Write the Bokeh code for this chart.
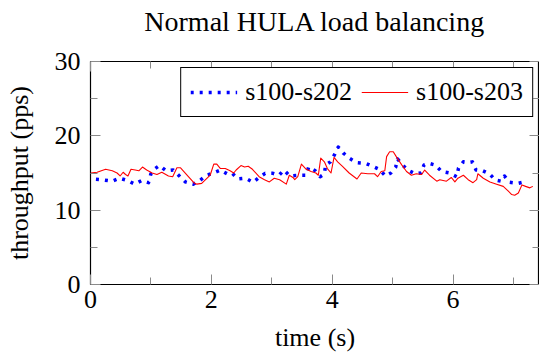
from bokeh.plotting import figure
from bokeh.models import (FixedTicker, LinearAxis, Range1d, Legend, LegendItem,
                          CustomJSTickFormatter)
from bokeh.embed import file_html
from bokeh.resources import INLINE

# ---- data -------------------------------------------------------------
title_text = "Normal HULA load balancing"
x_label = "time (s)"
y_label = "throughput (pps)"
series_names = ["s100-s202", "s100-s203"]

x_major_ticks = [0, 2, 4, 6]
x_minor_ticks = [1, 3, 5, 7]
y_major_ticks = [0, 10, 20, 30]
y_minor_ticks = [5, 15, 25]

t_202 = [0.09, 0.22, 0.36, 0.48, 0.61, 0.73, 0.85, 0.96, 1.00, 1.07, 1.14, 1.25,
         1.37, 1.47, 1.57, 1.70, 1.81, 1.92, 2.02, 2.15, 2.26, 2.34, 2.44, 2.57,
         2.69, 2.79, 2.89, 3.02, 3.12, 3.20, 3.30, 3.43, 3.57, 3.61, 3.72, 3.80,
         3.87, 3.89, 3.97, 4.04, 4.10, 4.18, 4.29, 4.40, 4.55, 4.67, 4.78, 4.88,
         4.97, 5.05, 5.08, 5.16, 5.26, 5.37, 5.47, 5.52, 5.60, 5.71, 5.81, 5.94,
         6.06, 6.09, 6.17, 6.25, 6.32, 6.38, 6.48, 6.60, 6.70, 6.79, 6.85, 6.93,
         7.07, 7.18]
v_202 = [14.15, 14.06, 13.9, 14.3, 14.0, 13.5, 14.0, 13.7, 14.9, 15.6, 16.0, 15.3,
         15.4, 14.6, 13.8, 13.5, 14.0, 14.7, 14.95, 15.4, 14.9, 15.0, 14.2, 14.3,
         13.75, 14.4, 14.95, 14.95, 14.7, 15.4, 14.6, 14.7, 14.7, 15.8, 15.3, 14.5,
         14.86, 16.06, 16.5, 17.5, 18.5, 17.7, 16.96, 16.4, 16.3, 15.9, 15.5, 14.6,
         15.0, 15.8, 16.9, 16.1, 15.35, 14.9, 15.0, 16.1, 16.3, 16.06, 15.2, 15.0,
         14.5, 15.66, 16.5, 16.4, 16.5, 15.4, 15.35, 14.9, 14.06, 13.9, 14.6, 13.75,
         13.6, 13.8]

t_203 = [0.00, 0.11, 0.25, 0.36, 0.44, 0.49, 0.54, 0.58, 0.62, 0.67, 0.74, 0.80,
         0.86, 0.93, 1.02, 1.10, 1.18, 1.29, 1.36, 1.43, 1.49, 1.62, 1.71, 1.76,
         1.84, 1.93, 1.98, 2.04, 2.09, 2.15, 2.23, 2.31, 2.37, 2.41, 2.49, 2.55,
         2.61, 2.68, 2.79, 2.88, 2.96, 3.04, 3.13, 3.24, 3.29, 3.35, 3.38, 3.43,
         3.49, 3.57, 3.65, 3.73, 3.77, 3.81, 3.87, 3.92, 3.98, 4.03, 4.09, 4.17,
         4.28, 4.41, 4.48, 4.59, 4.70, 4.75, 4.81, 4.87, 4.90, 4.95, 5.01, 5.06,
         5.15, 5.23, 5.31, 5.39, 5.48, 5.53, 5.61, 5.73, 5.78, 5.89, 5.97, 6.03,
         6.08, 6.17, 6.25, 6.33, 6.39, 6.41, 6.50, 6.61, 6.72, 6.83, 6.91, 6.97,
         7.02, 7.08, 7.14, 7.20, 7.27, 7.32]
v_203 = [15.0, 15.1, 15.5, 15.3, 15.0, 14.6, 15.1, 14.8, 14.6, 15.5, 15.4, 15.3,
         15.8, 15.4, 15.0, 14.8, 15.1, 14.6, 14.5, 15.7, 15.7, 14.5, 13.7, 13.5,
         13.6, 14.3, 14.7, 16.2, 16.2, 15.6, 15.6, 15.3, 15.0, 15.4, 16.0, 15.8,
         15.9, 15.5, 14.5, 14.1, 13.8, 14.3, 14.1, 13.5, 14.7, 14.4, 14.1, 14.5,
         16.2, 15.5, 15.2, 15.0, 14.7, 17.0, 16.5, 15.6, 15.0, 17.1, 16.5, 15.9,
         15.0, 14.2, 15.0, 14.9, 14.9, 14.5, 15.2, 15.3, 17.2, 17.85, 17.85, 17.2,
         16.1, 15.2, 14.7, 14.9, 14.8, 15.4, 14.7, 13.9, 14.1, 13.9, 14.4, 13.8,
         14.3, 14.7, 14.1, 13.7, 14.1, 14.9, 14.3, 13.8, 13.5, 13.2, 12.6, 12.1,
         12.0, 12.3, 13.4, 13.2, 13.0, 13.2]

x_start, x_end = 0, 7.43
y_start, y_end = 0, 30

# ---- styling ----------------------------------------------------------
FONT = "Liberation Serif"
FS = "26px"
TICK_COLOR = "#8a8a8a"

p = figure(width=539, height=354, output_backend="svg", toolbar_location=None,
           x_range=Range1d(x_start, x_end), y_range=Range1d(y_start, y_end),
           min_border_left=90, min_border_top=61, min_border_bottom=70,
           min_border_right=0)

p.title.text = title_text
p.title.text_font = FONT
p.title.text_font_size = "28px"
p.title.text_font_style = "normal"
p.title.align = "center"
p.title.text_color = "black"
p.title.text_line_height = 1.0
p.title.standoff = 6

p.grid.visible = False
p.outline_line_color = "black"
p.outline_line_width = 1.2
p.outline_line_alpha = 1.0
p.background_fill_color = "white"
p.border_fill_color = "white"

def style_axis(ax, ticks, minor, show_labels):
    ax.ticker = FixedTicker(ticks=ticks, minor_ticks=minor)
    ax.axis_line_color = None
    ax.major_tick_in = 10
    ax.major_tick_out = 0
    ax.minor_tick_in = 7
    ax.minor_tick_out = 0
    ax.major_tick_line_color = TICK_COLOR
    ax.minor_tick_line_color = TICK_COLOR
    ax.major_tick_line_width = 1
    ax.minor_tick_line_width = 1
    ax.major_label_text_font = FONT
    ax.major_label_text_color = "black"
    ax.axis_label_text_font = FONT
    ax.axis_label_text_font_style = "normal"
    ax.axis_label_text_color = "black"
    ax.major_label_text_line_height = 1.0
    ax.axis_label_text_line_height = 1.0
    if show_labels:
        ax.major_label_text_font_size = FS
        ax.axis_label_text_font_size = FS
    else:
        ax.formatter = CustomJSTickFormatter(code="return ''")
        ax.major_label_text_font_size = "0px"
        ax.major_label_standoff = 0

xa = p.xaxis[0]
ya = p.yaxis[0]
style_axis(xa, x_major_ticks, x_minor_ticks, True)
style_axis(ya, y_major_ticks, y_minor_ticks, True)
xa.axis_label = x_label
ya.axis_label = y_label
xa.major_label_standoff = 6
xa.axis_label_standoff = 12
ya.major_label_standoff = 10
ya.axis_label_standoff = 18

# mirrored tick marks on the top and right sides (no labels)
top_ax = LinearAxis()
style_axis(top_ax, x_major_ticks, x_minor_ticks, False)
top_ax.axis_label = "\u00a0"
top_ax.axis_label_text_font_size = "17px"
top_ax.axis_label_standoff = 0
p.add_layout(top_ax, "above")
right_ax = LinearAxis()
style_axis(right_ax, y_major_ticks, y_minor_ticks, False)
p.add_layout(right_ax, "right")

blue = p.line(t_202, v_202, line_color="#0000ff", line_width=3.5,
              line_dash="3 6", line_cap="butt", line_join="round")
red = p.line(t_203, v_203, line_color="red", line_width=1.1, line_alpha=1.0,
             line_cap="butt", line_join="round", line_dash="solid")

legend = Legend(items=[LegendItem(label=series_names[0], renderers=[blue]),
                       LegendItem(label=series_names[1], renderers=[red])],
                orientation="horizontal", location="top_right",
                label_text_font=FONT, label_text_font_size=FS,
                label_text_color="black", label_height=24,
                glyph_width=47, glyph_height=20, label_standoff=8, spacing=9,
                padding=9, margin=6, border_line_color="black",
                border_line_width=1.2, border_line_alpha=1.0,
                background_fill_color="white", background_fill_alpha=1.0)
p.add_layout(legend)

open("out.html", "w").write(file_html(p, INLINE))
